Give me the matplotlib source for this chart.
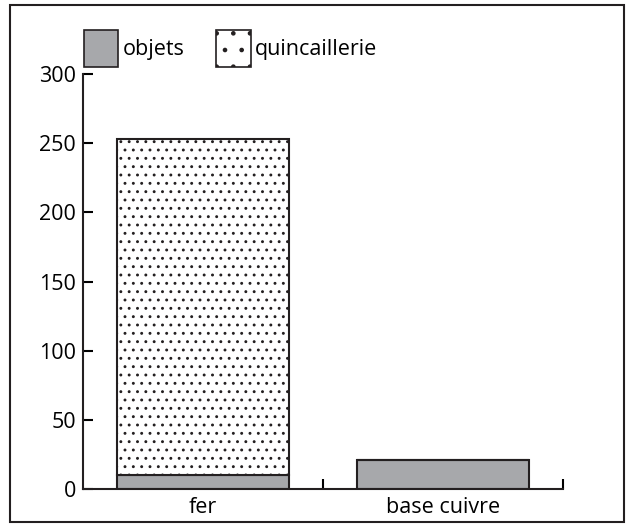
import matplotlib
matplotlib.use("Agg")
import matplotlib.pyplot as plt
from matplotlib.patches import Rectangle, Patch

categories = ["fer", "base cuivre"]
objets = [10, 21]
quincaillerie = [243, 0]
yticks = [0, 50, 100, 150, 200, 250, 300]

plt.rcParams["font.family"] = ["Open Sans", "DejaVu Sans"]
plt.rcParams["hatch.linewidth"] = 0.9

fig = plt.figure(figsize=(6.34, 5.29), dpi=100)
ax = fig.add_axes([0.131, 0.0756, 0.757, 0.7844])

x = list(range(len(categories)))
gray = "#a7a8ab"
ax.bar(x, objets, width=0.72, color=gray, edgecolor="#231f20", linewidth=1.5)
ax.bar(x, quincaillerie, width=0.72, bottom=objets, color="white",
       edgecolor="#231f20", linewidth=1.5, hatch="..")

ax.set_xlim(-0.5, len(categories) - 0.5)
ax.set_ylim(0, 300)
ax.set_yticks(yticks)
ax.set_xticks([i + 0.5 for i in x])
ax.set_xticklabels([])
ax.set_xticks(x, minor=True)
ax.set_xticklabels(categories, minor=True)
ax.tick_params(axis="x", which="minor", length=0, labelsize=15.5, pad=6)
ax.tick_params(axis="x", which="major", direction="in", length=7, width=1.5)
ax.tick_params(axis="y", direction="in", length=7, width=1.5, labelsize=15.5, pad=5)
for s in ["top", "right"]:
    ax.spines[s].set_visible(False)
for s in ["left", "bottom"]:
    ax.spines[s].set_linewidth(1.5)
    ax.spines[s].set_color("#231f20")

handles = [Patch(facecolor=gray, edgecolor="#231f20", linewidth=1.2, label="objets"),
           Patch(facecolor="white", edgecolor="#231f20", linewidth=1.2, hatch=".", label="quincaillerie")]
fig.legend(handles=handles, loc="upper left", bbox_to_anchor=(0.108, 0.972), ncol=2,
           frameon=False, fontsize=15.5, handlelength=1.6, handleheight=2.3,
           handletextpad=0.2, columnspacing=1.5, borderpad=0.2)

fig.patches.append(Rectangle((0.016, 0.014), 0.969, 0.976, transform=fig.transFigure,
                             fill=False, edgecolor="#231f20", linewidth=1.5))

fig.savefig("out.png", dpi=100)
